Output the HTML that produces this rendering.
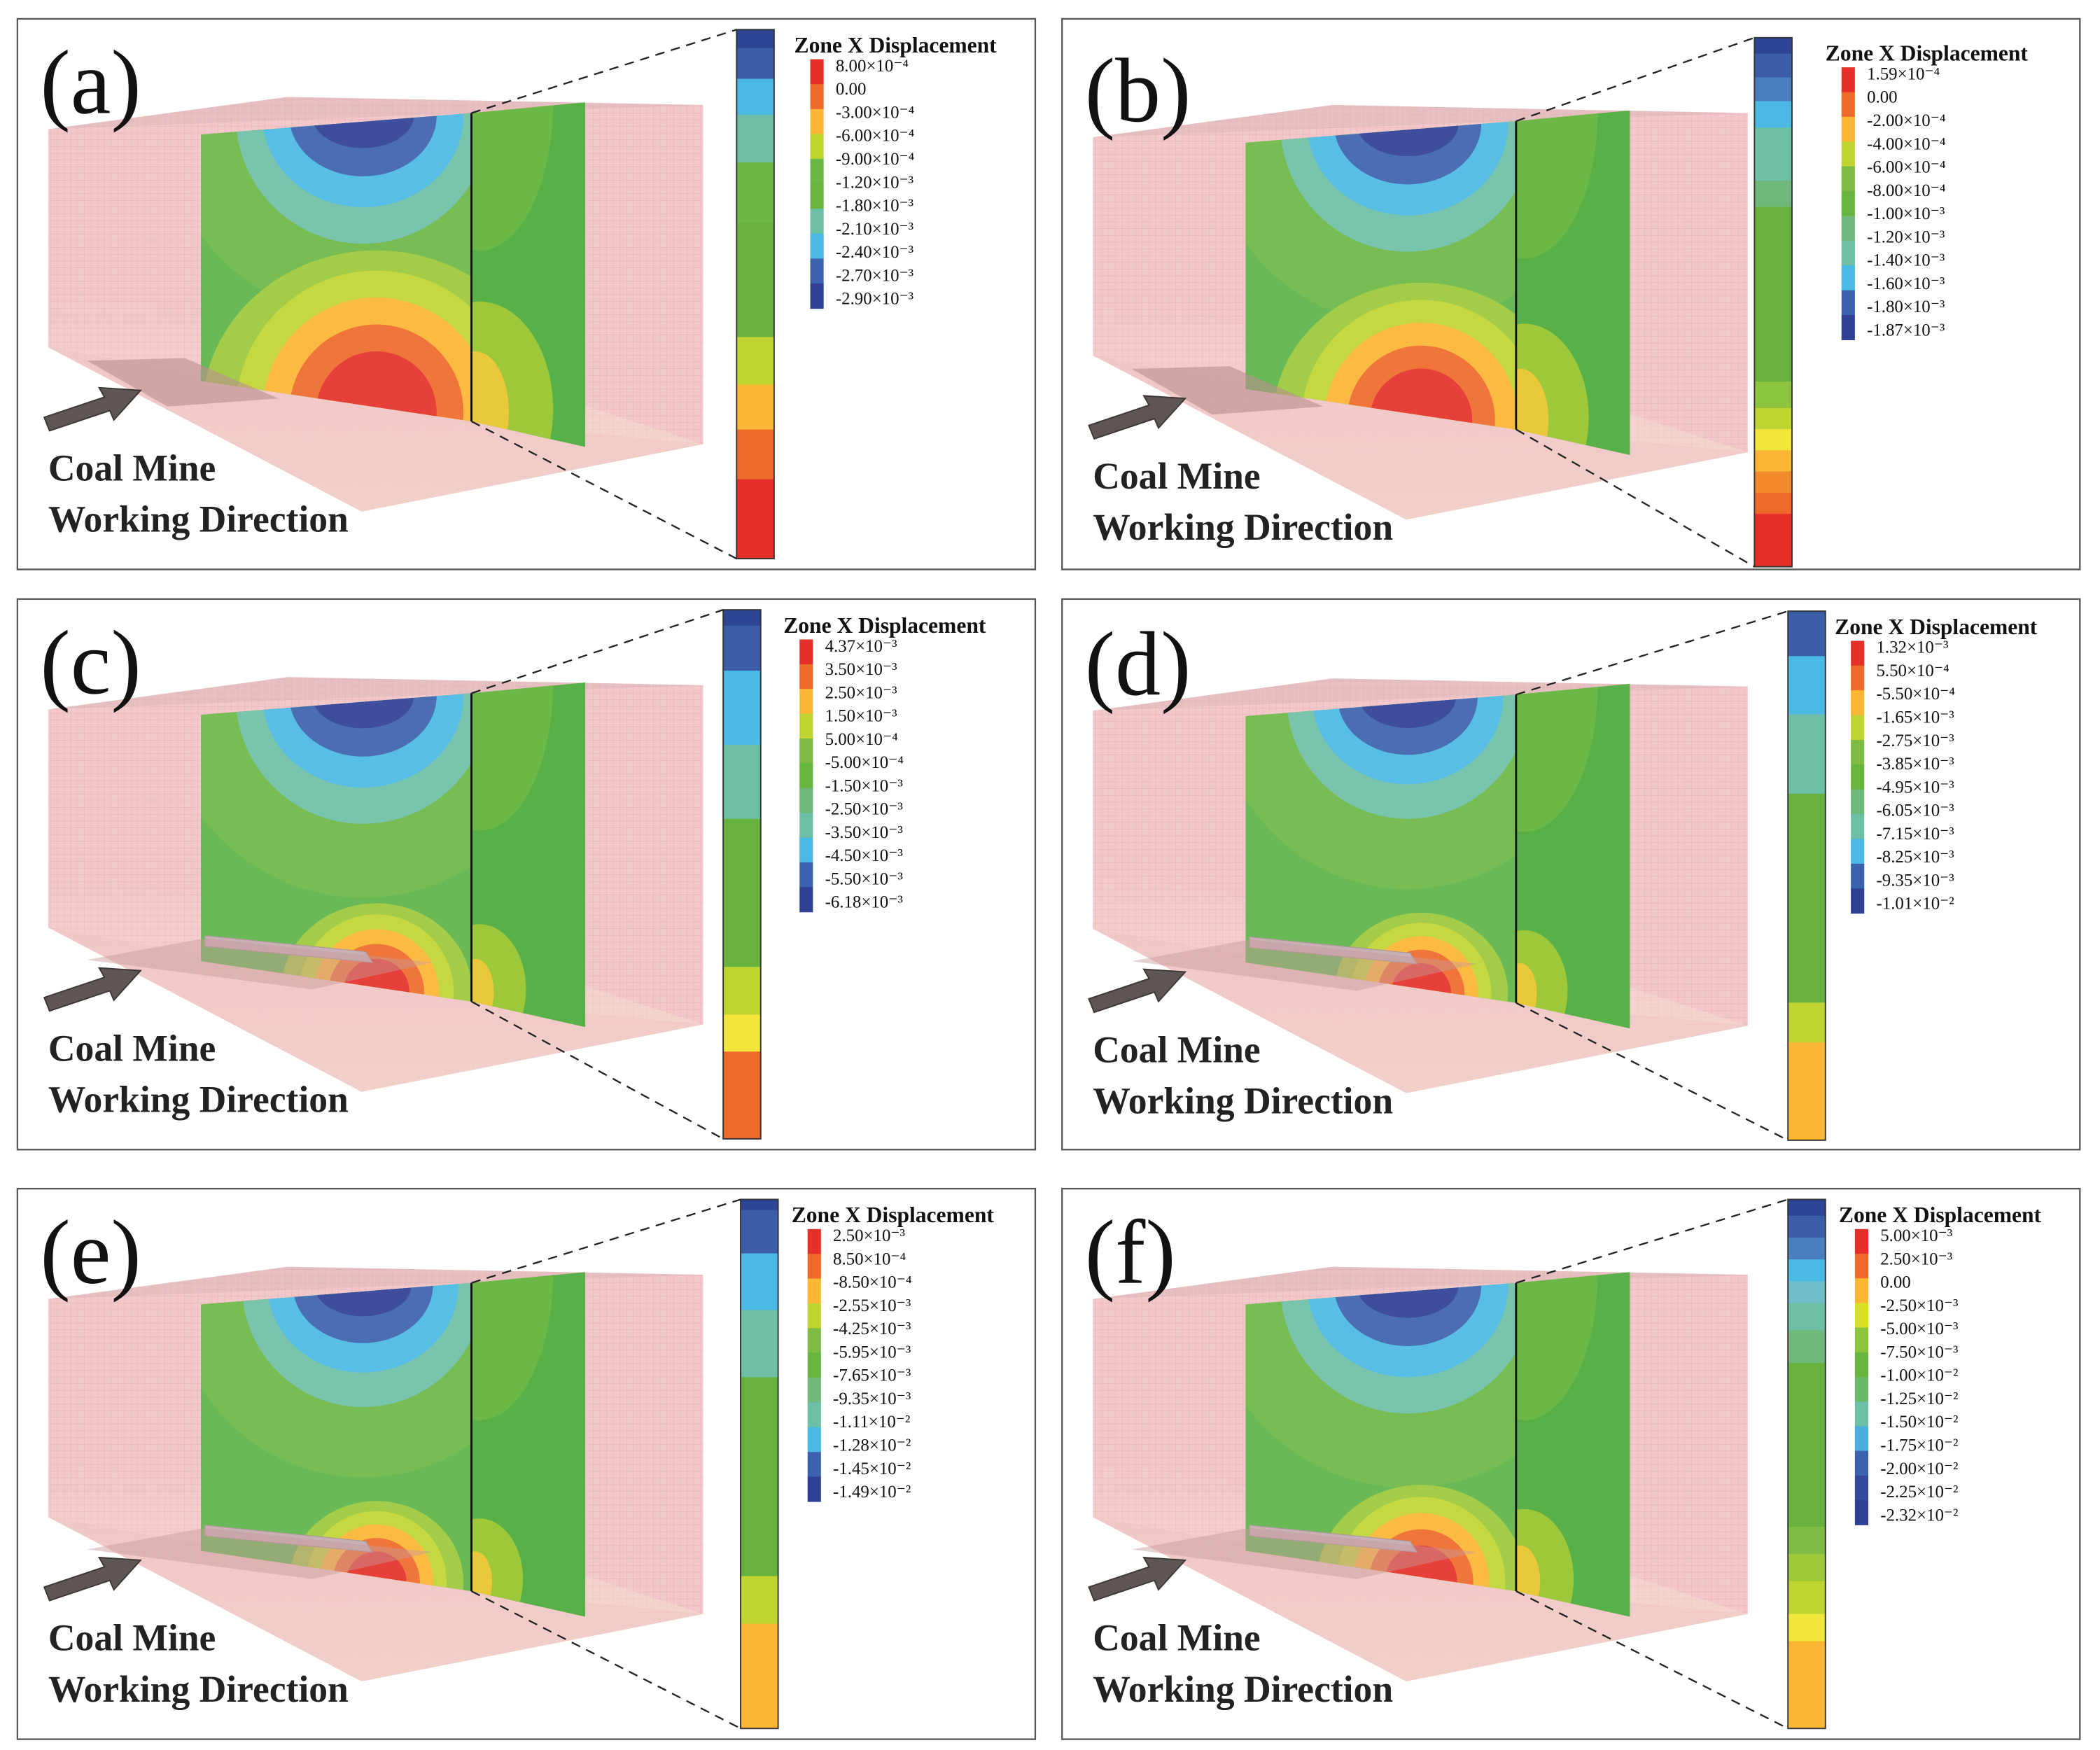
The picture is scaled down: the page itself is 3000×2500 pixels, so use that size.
<!DOCTYPE html>
<html><head><meta charset="utf-8">
<style>
html,body{margin:0;padding:0;background:#fff;}
svg{display:block;}
</style></head>
<body>
<svg id="fig" width="3000" height="2500" viewBox="0 0 1568 1300" preserveAspectRatio="none" xmlns="http://www.w3.org/2000/svg">
<defs>
<pattern id="grid" width="5" height="5" patternUnits="userSpaceOnUse">
<rect width="5" height="5" fill="#f3c8cb"/>
<path d="M5 0V5M0 5H5" stroke="#d9a0a8" stroke-width="0.5" opacity="0.6"/>
</pattern>
<linearGradient id="floor" x1="0" y1="0" x2="0" y2="1">
<stop offset="0" stop-color="#f5dcd0" stop-opacity="0"/>
<stop offset="1" stop-color="#f3e6cf" stop-opacity="0.7"/>
</linearGradient>
</defs>
</svg>
<script>
const panelIds=['a','b','c','d','e','f'];
const panelOrigins=[[13,14],[793,20],[13,445],[793,446],[13,883],[793,883]];
const frameOrigins=[[13,14],[793,14],[13,445],[793,445],[13,883],[793,883]];
const legendLabelsA=['8.00×10⁻⁴','0.00','-3.00×10⁻⁴','-6.00×10⁻⁴','-9.00×10⁻⁴','-1.20×10⁻³','-1.80×10⁻³','-2.10×10⁻³','-2.40×10⁻³','-2.70×10⁻³','-2.90×10⁻³'];
const legendLabelsB=['1.59×10⁻⁴','0.00','-2.00×10⁻⁴','-4.00×10⁻⁴','-6.00×10⁻⁴','-8.00×10⁻⁴','-1.00×10⁻³','-1.20×10⁻³','-1.40×10⁻³','-1.60×10⁻³','-1.80×10⁻³','-1.87×10⁻³'];
const legendLabelsC=['4.37×10⁻³','3.50×10⁻³','2.50×10⁻³','1.50×10⁻³','5.00×10⁻⁴','-5.00×10⁻⁴','-1.50×10⁻³','-2.50×10⁻³','-3.50×10⁻³','-4.50×10⁻³','-5.50×10⁻³','-6.18×10⁻³'];
const legendLabelsD=['1.32×10⁻³','5.50×10⁻⁴','-5.50×10⁻⁴','-1.65×10⁻³','-2.75×10⁻³','-3.85×10⁻³','-4.95×10⁻³','-6.05×10⁻³','-7.15×10⁻³','-8.25×10⁻³','-9.35×10⁻³','-1.01×10⁻²'];
const legendLabelsE=['2.50×10⁻³','8.50×10⁻⁴','-8.50×10⁻⁴','-2.55×10⁻³','-4.25×10⁻³','-5.95×10⁻³','-7.65×10⁻³','-9.35×10⁻³','-1.11×10⁻²','-1.28×10⁻²','-1.45×10⁻²','-1.49×10⁻²'];
const legendLabelsF=['5.00×10⁻³','2.50×10⁻³','0.00','-2.50×10⁻³','-5.00×10⁻³','-7.50×10⁻³','-1.00×10⁻²','-1.25×10⁻²','-1.50×10⁻²','-1.75×10⁻²','-2.00×10⁻²','-2.25×10⁻²','-2.32×10⁻²'];
const legendLabels=[legendLabelsA,legendLabelsB,legendLabelsC,legendLabelsD,legendLabelsE,legendLabelsF];
const legendColorsA=['#e5302a','#ee6a2a','#fbb633','#c0d431','#6cb846','#68b53e','#6dbfa6','#4ab9e3','#3c62ad','#2e3f94'];
const legendColorsB=['#e5302a','#ee6a2a','#fbb633','#c0d431','#7dbb42','#68b53e','#6fb87a','#6dbfa6','#4ab9e3','#3c62ad','#2e3f94'];
const legendColorsF=['#e5302a','#ee6a2a','#fbb633','#d8e02a','#8cc43e','#68b53e','#6ab86a','#6dbfa6','#4aaedf','#3c62ad','#33489b','#2e3f94'];
const legendColors=[legendColorsA,legendColorsB,legendColorsB,legendColorsB,legendColorsB,legendColorsF];
const barBandsA=[['#2e4596',0.035],['#3c5ea8',0.058],['#4ab9e3',0.068],['#6dbfa6',0.09],['#6cb846',0.115],['#66b23c',0.215],['#c0d431',0.09],['#fbb633',0.085],['#ee6a2a',0.094],['#e5302a',0.15]];
const barBandsB=[['#2e4596',0.03],['#3c5ea8',0.045],['#4a7fbf',0.045],['#4ab9e3',0.05],['#6dbfa6',0.1],['#6fb87a',0.05],['#66b23c',0.33],['#8cc43e',0.05],['#c0d431',0.04],['#f3e63a',0.04],['#fbb633',0.04],['#f28a2c',0.04],['#ee6a2a',0.04],['#e5302a',0.1]];
const barBandsC=[['#2e4596',0.03],['#3c5ea8',0.085],['#4ab9e3',0.14],['#6dbfa6',0.14],['#66b23c',0.28],['#c0d431',0.09],['#f3e63a',0.07],['#ee6a2a',0.165]];
const barBandsD=[['#3c5ea8',0.085],['#4ab9e3',0.11],['#6dbfa6',0.15],['#66b23c',0.395],['#c0d431',0.075],['#fbb633',0.185]];
const barBandsE=[['#2e4596',0.02],['#3c5ea8',0.082],['#4ab9e3',0.107],['#6dbfa6',0.127],['#66b23c',0.376],['#c0d431',0.09],['#fbb633',0.198]];
const barBandsF=[['#2e4596',0.03],['#3c5ea8',0.04],['#4a7fbf',0.04],['#4ab9e3',0.04],['#6fbfcb',0.04],['#6dbfa6',0.05],['#6fb87a',0.06],['#66b23c',0.3],['#7dbb42',0.05],['#9cc83a',0.05],['#c0d431',0.06],['#f3e63a',0.05],['#fbb633',0.16]];
const barBands=[barBandsA,barBandsB,barBandsC,barBandsD,barBandsE,barBandsF];
const barX=[537,517,527,542,540,542];
const legX=[580,570,572,577,578,580];
const redScale=[1.0,0.85,0.55,0.5,0.5,0.6];
const blueScale=[1.0,1.0,1.0,0.95,0.95,1.0];
const hasSeam=[false,false,true,true,true,true];

const NS='http://www.w3.org/2000/svg';
const svg=document.getElementById('fig');
function mk(tag,attrs,parent){const e=document.createElementNS(NS,tag);for(const k in attrs)e.setAttribute(k,attrs[k]);(parent||svg).appendChild(e);return e;}
const pts=a=>a.map(p=>p.join(',')).join(' ');

panelIds.forEach((id,i)=>{
  const [fx,fy]=frameOrigins[i];
  const frame=mk('rect',{x:fx,y:fy,width:760,height:409,fill:'#fff',stroke:'#555','stroke-width':1.2});
  
  
  const [ox,oy]=panelOrigins[i];
  const g=mk('g',{transform:`translate(${ox},${oy})`});
  
  
  const box=mk('polygon',{points:pts([[23,82],[202,58],[512,64],[512,316],[257,366],[23,244]]),fill:'url(#grid)'},g);
  
  
  mk('polygon',{points:pts([[23,82],[202,58],[512,64],[339,70]]),fill:'#d8b3b6',opacity:0.45},g);
  mk('polygon',{points:pts([[23,200],[339,260],[512,316],[257,366],[23,244]]),fill:'url(#floor)'},g);
  mk('polygon',{points:pts([[23,244],[339,299],[512,316],[257,366]]),fill:'#f0c4c6',opacity:0.5},g);
  const cid='clip'+id;
  const cp=mk('clipPath',{id:cid},g);
  mk('polygon',{points:pts([[137,86],[339,70],[339,299],[137,269]])},cp);
  const cid2='clipR'+id;
  const cp2=mk('clipPath',{id:cid2},g);
  mk('polygon',{points:pts([[339,70],[424,62],[424,318],[339,299]])},cp2);
  const right=mk('g',{'clip-path':`url(#${cid2})`},g);
  
  
  mk('rect',{x:339,y:55,width:90,height:270,fill:'#58b148'},right);
  mk('ellipse',{cx:345,cy:62,rx:55,ry:110,fill:'#6cb846'},right);
  mk('ellipse',{cx:345,cy:290,rx:45*redScale[i]+10,ry:70*redScale[i]+10,fill:'#9cc83a'},right);
  mk('ellipse',{cx:342,cy:292,rx:25*redScale[i],ry:45*redScale[i],fill:'#e9c83a'},right);
  const left=mk('g',{'clip-path':`url(#${cid})`},g);
  
  
  mk('rect',{x:130,y:60,width:215,height:250,fill:'#5db548'},left);
  const bs=blueScale[i];
  const blueRings=[['#6cb846',150,150],['#6dbfa6',95,95],['#4ab9e3',75,68],['#3c62ad',55,45],['#2e3f94',38,24]];
  blueRings.forEach(r=>mk('ellipse',{cx:258,cy:72,rx:r[1]*bs,ry:r[2]*bs,fill:r[0]},left));
  const rs=redScale[i];
  const redRings=[['#9cc83a',130,120],['#c0d431',105,105],['#fbb633',85,85],['#ee6a2a',65,65],['#e5302a',45,45]];
  redRings.forEach(r=>mk('ellipse',{cx:268,cy:292,rx:r[1]*rs,ry:r[2]*rs,fill:r[0]},left));
  mk('polygon',{points:pts([[137,86],[339,70],[339,299],[137,269]]),fill:'#fff',opacity:0.08},g);
  if(hasSeam[i]){
    const seam=mk('polygon',{points:pts([[140,250],[260,262],[265,270],[140,258]]),fill:'#c8b0b4',stroke:'#a99',"stroke-width":0.6},g);
    
    
    mk('polygon',{points:pts([[52,268],[140,252],[310,270],[220,290]]),fill:'#c89a98',opacity:0.45},g);
  } else {
    const seam=mk('polygon',{points:pts([[52,254],[125,252],[195,282],[112,288]]),fill:'#b98d8d',opacity:0.6},g);
    
    
  }
  mk('line',{x1:339,y1:70,x2:339,y2:299,stroke:'#111','stroke-width':1.5},g);
  const bx=barX[i], top=8, bot=401, bh=bot-top;
  const cb=mk('g',{},g);
  
  
  let y=top; const tot=barBands[i].reduce((s,b)=>s+b[1],0);
  barBands[i].forEach(b=>{const h=b[1]/tot*bh;mk('rect',{x:bx,y:y,width:28,height:h+0.3,fill:b[0]},cb);y+=h;});
  mk('rect',{x:bx,y:top,width:28,height:bh,fill:'none',stroke:'#333','stroke-width':1},cb);
  mk('line',{x1:339,y1:70,x2:bx,y2:top,stroke:'#222','stroke-width':1.2,'stroke-dasharray':'7,5'},g);
  mk('line',{x1:339,y1:299,x2:bx,y2:bot,stroke:'#222','stroke-width':1.2,'stroke-dasharray':'7,5'},g);
  const lx=legX[i];
  const tt=mk('text',{x:lx,y:25,'font-family':'Liberation Serif, serif','font-size':16.5,'font-weight':'bold',fill:'#111'},g);
  tt.textContent='Zone X Displacement';
  
  
  const labs=legendLabels[i], cols=legendColors[i];
  const step=17.3, ly0=30, lh=step*(labs.length-0.3);
  const lbar=mk('g',{},g);
  
  
  cols.forEach((c,k)=>{const h=lh/cols.length;mk('rect',{x:lx+12,y:ly0+k*h,width:10,height:h+0.3,fill:c},lbar);});
  labs.forEach((t,k)=>{
    const tx=mk('text',{x:lx+31,y:ly0+9+k*step,'font-family':'Liberation Serif, serif','font-size':13,fill:'#111'},g);
    tx.textContent=t;
    
    
  });
  const ar=mk('polygon',{points:pts([[20,296],[65,281],[61,274],[92,276],[72,298],[69,291],[24,306]]),fill:'#5e5654',stroke:'#3d3837','stroke-width':1},g);
  
  
  const pl=mk('text',{x:17,y:70,'font-family':'Liberation Serif, serif','font-size':68,fill:'#111'},g);
  pl.textContent='('+id+')';
  
  
  const c1=mk('text',{x:23,y:343,'font-family':'Liberation Serif, serif','font-size':28,'font-weight':'bold',fill:'#222'},g);
  c1.textContent='Coal Mine';
  
  
  const c2=mk('text',{x:23,y:381,'font-family':'Liberation Serif, serif','font-size':28,'font-weight':'bold',fill:'#222'},g);
  c2.textContent='Working Direction';
  
  
});
</script>
</body></html>
